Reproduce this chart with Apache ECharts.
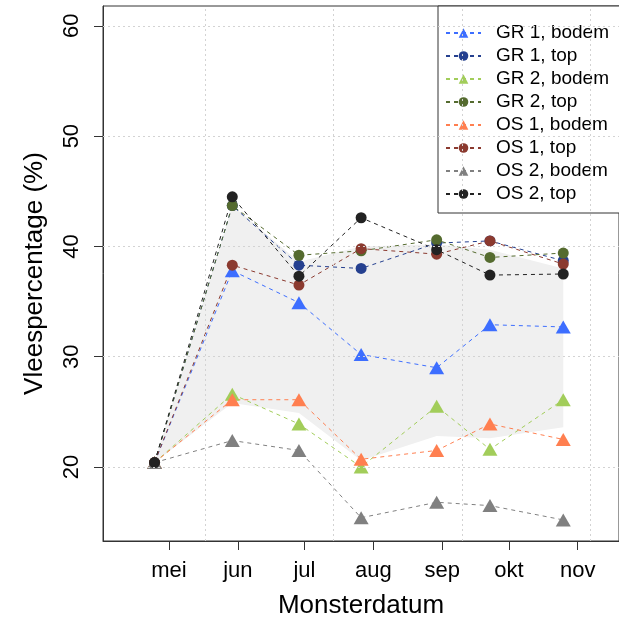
<!DOCTYPE html>
<html>
<head>
<meta charset="utf-8">
<script src="https://cdn.jsdelivr.net/npm/echarts@6/dist/echarts.min.js"></script>
<style>
  html, body { margin: 0; padding: 0; background: #fff; }
  #chart { width: 619px; height: 620px; }
</style>
</head>
<body>
<div id="chart"></div>
<script>
// sample dates (2017)
var sampleDates = ['2017-04-24', '2017-05-29', '2017-06-28', '2017-07-26', '2017-08-29', '2017-09-22', '2017-10-25'];

// Vleespercentage per plot / laag
var gr1Bodem = [20.4, 37.8, 34.9, 30.2, 29.0, 32.9, 32.7];
var gr1Top   = [20.4, 43.7, 38.3, 38.0, 40.3, 40.5, 38.7];
var gr2Bodem = [20.4, 26.6, 23.9, 20.0, 25.5, 21.6, 26.1];
var gr2Top   = [20.4, 43.7, 39.2, 39.6, 40.6, 39.0, 39.4];
var os1Bodem = [20.4, 26.1, 26.1, 20.7, 21.5, 23.9, 22.5];
var os1Top   = [20.4, 38.3, 36.5, 39.8, 39.3, 40.5, 38.4];
var os2Bodem = [20.4, 22.4, 21.5, 15.4, 16.8, 16.5, 15.2];
var os2Top   = [20.4, 44.5, 37.3, 42.6, 39.7, 37.4, 37.5];

// grey reference band
var bandHigh = [20.4, 43.7, 38.6, 40.0, 40.2, 39.7, 38.0];
var bandLow  = [20.4, 25.8, 24.9, 20.6, 22.8, 22.6, 23.6];

// axis labels
var monthNames = ['jan', 'feb', 'mrt', 'apr', 'mei', 'jun', 'jul', 'aug', 'sep', 'okt', 'nov', 'dec'];
var monthTicks = [4, 5, 6, 7, 8, 9, 10];
var yTicks = [20, 30, 40, 50, 60];
// vertical grid lines (R grid() on POSIXct, every 5e6 s)
var gridSeconds = [1495000000, 1500000000, 1505000000, 1510000000];

var seriesNames = ['GR 1, bodem', 'GR 1, top', 'GR 2, bodem', 'GR 2, top', 'OS 1, bodem', 'OS 1, top', 'OS 2, bodem', 'OS 2, top'];
var seriesValues = [gr1Bodem, gr1Top, gr2Bodem, gr2Top, os1Bodem, os1Top, os2Bodem, os2Top];
var seriesColors = ['#3d6eff', '#25408f', '#a2cd5a', '#556b2f', '#ff7f50', '#8b3a2f', '#808080', '#222222'];

function toTime(s) {
    var p = s.split('-');
    return new Date(+p[0], +p[1] - 1, +p[2], 12).getTime();
}
var times = sampleDates.map(toTime);
var tickTimes = monthTicks.map(function (m) { return new Date(2017, m, 1).getTime(); });

var DAY = 86400000;
var xMin = new Date(2017, 3, 1, 7).getTime();
var xMax = xMin + 232.3 * DAY;

function pairs(vals) {
    var out = [];
    for (var i = 0; i < vals.length; i++) {
        out.push([times[i], vals[i]]);
    }
    return out;
}

var series = [];

// band polygon
series.push({
    type: 'custom',
    name: 'band',
    silent: true,
    z: 0,
    data: [[times[0], bandLow[0]]],
    encode: {x: 0, y: 1},
    renderItem: function (params, api) {
        var pts = [];
        for (var i = 0; i < times.length; i++) {
            pts.push(api.coord([times[i], bandHigh[i]]));
        }
        for (var j = times.length - 1; j >= 0; j--) {
            pts.push(api.coord([times[j], bandLow[j]]));
        }
        return {type: 'polygon', shape: {points: pts}, style: {fill: '#f0f0f0'}};
    }
});

// grid lines
var gridMarks = [];
gridSeconds.forEach(function (s) { gridMarks.push({xAxis: s * 1000}); });
yTicks.forEach(function (v) { gridMarks.push({yAxis: v}); });
series.push({
    type: 'line',
    name: 'grid',
    silent: true,
    z: 1,
    data: [[times[0], bandLow[0]]],
    showSymbol: false,
    lineStyle: {width: 0},
    markLine: {
        silent: true,
        symbol: ['none', 'none'],
        label: {show: false},
        animation: false,
        lineStyle: {type: [2, 3], color: '#d3d3d3', width: 1},
        data: gridMarks
    }
});

for (var k = 0; k < seriesNames.length; k++) {
    var tri = seriesNames[k].indexOf('bodem') > -1;
    series.push({
        type: 'line',
        name: seriesNames[k],
        z: 2,
        data: pairs(seriesValues[k]),
        symbol: tri ? 'triangle' : 'circle',
        symbolSize: tri ? [15, 13] : 11,
        showAllSymbol: true,
        color: seriesColors[k],
        itemStyle: {color: seriesColors[k]},
        lineStyle: {color: seriesColors[k], width: 1, type: [4, 4]},
        animation: false
    });
}

var chart = echarts.init(document.getElementById('chart'), null, {renderer: 'canvas'});
chart.setOption({
    animation: false,
    textStyle: {fontFamily: 'Liberation Sans, Arial, sans-serif'},
    grid: {
        left: 103, right: 0, top: 6, bottom: 79,
        outerBoundsMode: 'none',
        containLabel: false,
        show: true, borderColor: '#333', borderWidth: 1, backgroundColor: 'transparent'
    },
    legend: {
        data: seriesNames,
        orient: 'vertical',
        left: 438,
        top: 6,
        padding: [17, 40, 9, 7],
        itemWidth: 35,
        itemHeight: 12,
        itemGap: 3,
        borderColor: '#333',
        borderWidth: 1,
        backgroundColor: '#fff',
        textStyle: {fontSize: 19, color: '#000', lineHeight: 20, padding: [0, 0, 0, 10]}
    },
    xAxis: {
        type: 'value',
        min: xMin,
        max: xMax,
        name: 'Monsterdatum',
        nameLocation: 'middle',
        nameGap: 52,
        nameTextStyle: {fontSize: 26, color: '#000'},
        axisLine: {show: true, lineStyle: {color: '#333'}},
        axisTick: {show: true, inside: false, length: 9, lineStyle: {color: '#333'}, customValues: tickTimes},
        axisLabel: {
            fontSize: 22, color: '#000', margin: 19,
            customValues: tickTimes,
            formatter: function (v) { return monthNames[new Date(v).getMonth()]; }
        },
        splitLine: {show: false}
    },
    yAxis: {
        type: 'value',
        min: 13.29,
        max: 61.8,
        name: 'Vleespercentage (%)',
        nameLocation: 'middle',
        nameRotate: 90,
        nameGap: 55,
        nameTextStyle: {fontSize: 26, color: '#000'},
        axisLine: {show: true, lineStyle: {color: '#333'}},
        axisTick: {show: true, inside: false, length: 9, lineStyle: {color: '#333'}, customValues: yTicks},
        axisLabel: {fontSize: 22, color: '#000', margin: 20, rotate: 90, customValues: yTicks},
        splitLine: {show: false}
    },
    series: series
});
</script>
</body>
</html>
